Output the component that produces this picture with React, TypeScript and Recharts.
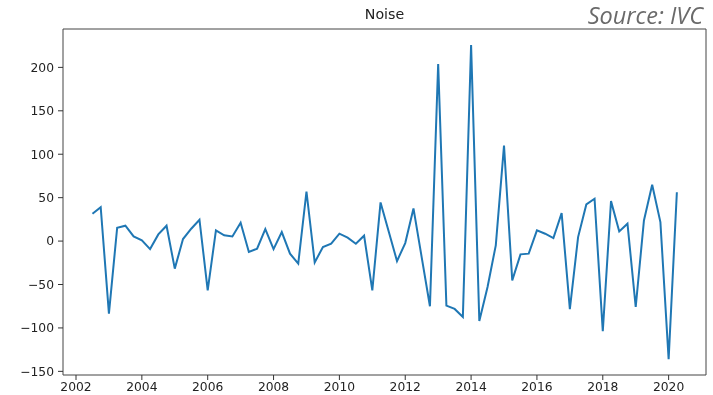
import { LineChart, Line, XAxis, YAxis, ReferenceArea } from "recharts";

// quarterly dates as decimal years
const dates = [
  2002.5, 2002.75,
  2003.0, 2003.25, 2003.5, 2003.75,
  2004.0, 2004.25, 2004.5, 2004.75,
  2005.0, 2005.25, 2005.5, 2005.75,
  2006.0, 2006.25, 2006.5, 2006.75,
  2007.0, 2007.25, 2007.5, 2007.75,
  2008.0, 2008.25, 2008.5, 2008.75,
  2009.0, 2009.25, 2009.5, 2009.75,
  2010.0, 2010.25, 2010.5, 2010.75,
  2011.0, 2011.25, 2011.5, 2011.75,
  2012.0, 2012.25, 2012.5, 2012.75,
  2013.0, 2013.25, 2013.5, 2013.75,
  2014.0, 2014.25, 2014.5, 2014.75,
  2015.0, 2015.25, 2015.5, 2015.75,
  2016.0, 2016.25, 2016.5, 2016.75,
  2017.0, 2017.25, 2017.5, 2017.75,
  2018.0, 2018.25, 2018.5, 2018.75,
  2019.0, 2019.25, 2019.5, 2019.75,
  2020.0, 2020.25,
];

const noise = [
  31.5, 39,
  -83.5, 15.4, 17.7, 5.4,
  0.8, -9.2, 7.7, 17.7,
  -31.7, 2.3, 14.2, 24.6,
  -56.7, 12.3, 6.6, 5.4,
  21.1, -12.6, -8.8, 13.8,
  -9.2, 10.4, -14.5, -26,
  57.1, -24.5, -6.9, -3,
  8.5, 3.9, -3, 6.2,
  -56.7, 44.5, 10.8, -23,
  -2.3, 37.6, -18.7, -75,
  204, -74.3, -78.1, -87.3,
  225.7, -92, -52.8, -4.9,
  110, -45.2, -15.3, -14.5,
  12.3, 8.5, 3.5, 32.2,
  -78.3, 4.6, 42.2, 48.7,
  -103.8, 46, 11.1, 20,
  -75.9, 23.8, 64.8, 21.8,
  -136, 56.3,
];

const xTicks = [2002, 2004, 2006, 2008, 2010, 2012, 2014, 2016, 2018, 2020];
const yTicks = [-150, -100, -50, 0, 50, 100, 150, 200];

const X_DOMAIN: [number, number] = [2001.605, 2021.135];
const Y_DOMAIN: [number, number] = [-154.2, 244.2];

const data = dates.map((t, i) => ({ t, v: noise[i] }));

const tickStyle = { fill: "#222", fontSize: 12.3, fontFamily: "DejaVu Sans" };

export default function App() {
  return (
    <div style={{ position: "fixed", left: 0, top: 0, width: 713, height: 395, background: "#fff" }}>
      <div
        style={{
          position: "absolute",
          left: 0,
          width: 769,
          top: 6,
          textAlign: "center",
          fontFamily: "DejaVu Sans",
          fontSize: 14.2,
          color: "#222",
        }}
      >
        Noise
      </div>
      <div
        style={{
          position: "absolute",
          right: 10,
          top: 3,
          lineHeight: "24px",
          fontFamily: "Open Sans",
          fontStyle: "italic",
          fontSize: 23.5,
          color: "#6a6a6a",
        }}
      >
        Source: IVC
      </div>
      <LineChart
        width={713}
        height={395}
        data={data}
        margin={{ top: 29, right: 7, bottom: 0, left: 13 }}
      >
        <XAxis
          dataKey="t"
          type="number"
          domain={X_DOMAIN}
          ticks={xTicks}
          allowDataOverflow
          axisLine={false}
          tickLine={{ stroke: "#333" }}
          tickSize={5}
          tickMargin={2}
          height={20}
          tick={tickStyle}
        />
        <YAxis
          type="number"
          domain={Y_DOMAIN}
          ticks={yTicks}
          allowDataOverflow
          axisLine={false}
          tickLine={{ stroke: "#333" }}
          tickSize={5}
          tickMargin={4}
          width={50}
          tick={tickStyle}
          tickFormatter={(v: number) => String(v).replace("-", "\u2212")}
        />
        <ReferenceArea
          x1={X_DOMAIN[0]}
          x2={X_DOMAIN[1]}
          y1={Y_DOMAIN[0]}
          y2={Y_DOMAIN[1]}
          fill="none"
          stroke="#444"
          strokeWidth={1}
        />
        <Line
          dataKey="v"
          type="linear"
          stroke="#1f77b4"
          strokeWidth={2}
          dot={false}
          isAnimationActive={false}
        />
      </LineChart>
    </div>
  );
}
